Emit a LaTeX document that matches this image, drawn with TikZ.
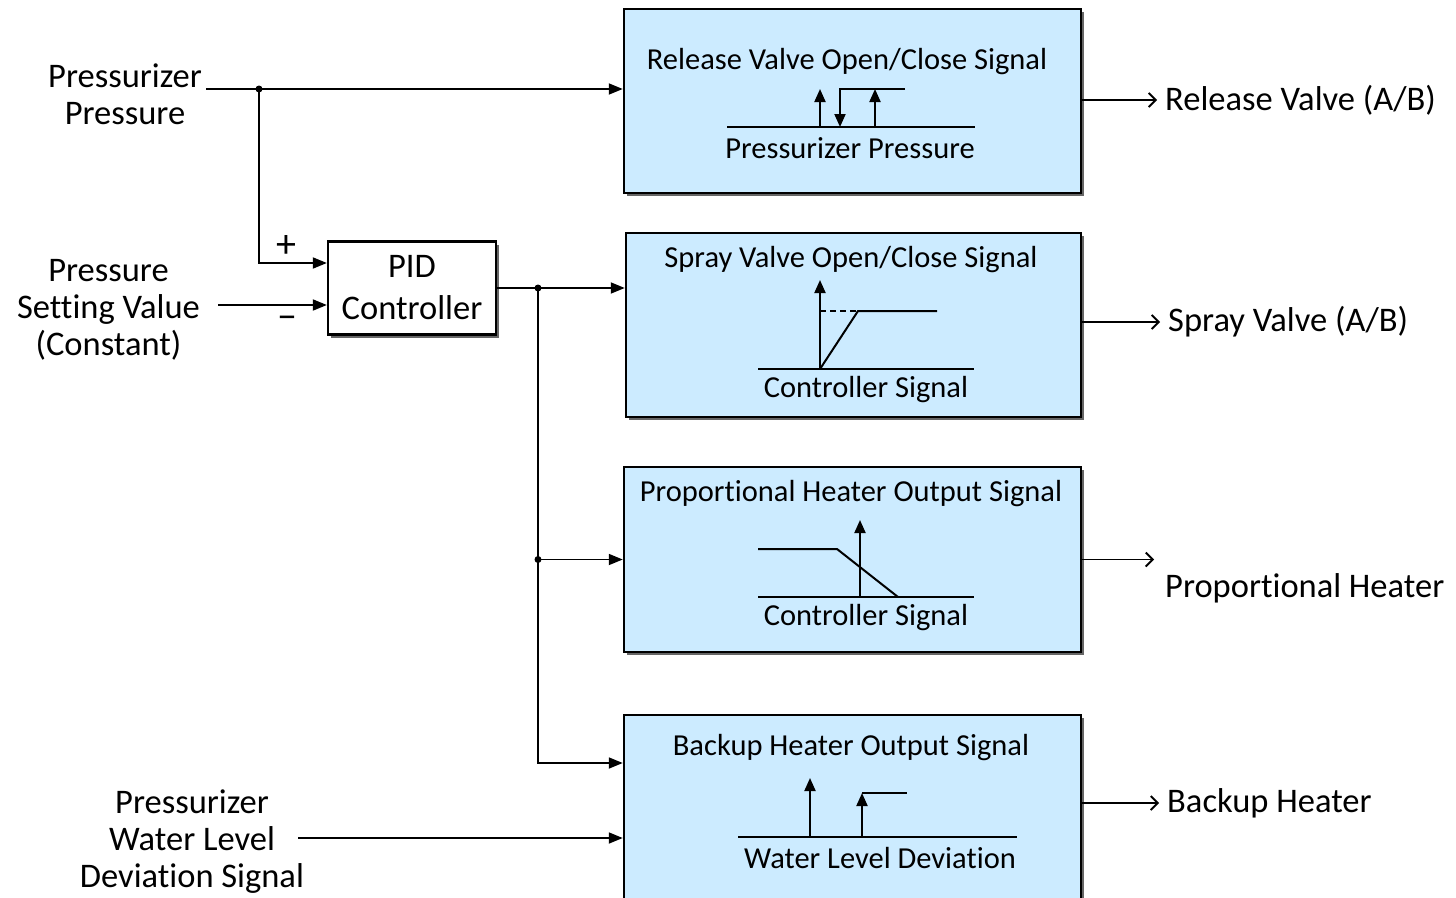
\documentclass[tikz,border=0pt]{standalone}
\usepackage{fontspec}
\setmainfont{Carlito}[Ligatures=NoCommon]
\usetikzlibrary{arrows.meta,shadows}
\definecolor{blockblue}{RGB}{204,235,255}
\newcommand{\bigtxt}{\fontsize{34.5}{37}\selectfont}
\newcommand{\boxtxt}{\fontsize{30.5}{33}\selectfont}
\begin{document}
\begin{tikzpicture}[
  x=1pt, y=-1pt,
  block/.style={draw, line width=2.5pt, fill=blockblue, minimum width=457pt, minimum height=184pt, inner sep=0pt,
    drop shadow={shadow xshift=3pt, shadow yshift=-3pt, fill=black, opacity=0.6}},
  pidbox/.style={draw, line width=2.3pt, fill=white, minimum width=168pt, minimum height=93pt, align=center, inner sep=0pt, font=\bigtxt,
    drop shadow={shadow xshift=3pt, shadow yshift=-3pt, fill=black, opacity=0.6}},
  sig/.style={align=center, font=\bigtxt, inner sep=4pt},
  title/.style={font=\boxtxt, inner sep=0pt},
  sign/.style={font=\fontsize{40}{42}\selectfont, inner sep=0pt},
  wire/.style={line width=1.8pt},
  feed/.style={wire, -{Triangle[length=14pt,width=11pt]}},
  outarr/.style={wire, shorten >=4pt, -{Straight Barb[length=7pt,width=14pt,line width=1.8pt]}},
  axis/.style={line width=2pt},
  tick/.style={line width=2pt, -{Triangle[length=13pt,width=11pt]}},
  dot/.style={circle, fill, inner sep=0pt, minimum size=7pt}
]
\useasboundingbox (0,0) rectangle (1456,897);

% blocks
\node[block] (rel) at (852.5,101) {};
\node[block, minimum width=455pt] (spray) at (853.5,325) {};
\node[block, minimum height=185pt] (prop) at (852.5,559.5) {};
\node[block, minimum height=190pt] (backup) at (852.5,810) {};
\node[pidbox] (pid) at (412,288) {PID\\[5pt]Controller};

% inputs
\node[sig] (ppress) at (125,94) {Pressurizer\\Pressure};
\node[sig] (setv) at (108.5,310) {Pressure\\Setting Value\\(Constant)};
\node[sig] (wlev) at (192,842) {Pressurizer\\Water Level\\Deviation Signal};

% outputs
\node[sig, anchor=west] (relout) at (1161,100) {Release Valve (A/B)};
\node[sig, anchor=west] (sprayout) at (1164,322) {Spray Valve (A/B)};
\node[sig, anchor=west] (propout) at (1161,588) {Proportional Heater};
\node[sig, anchor=west] (bkout) at (1163,803) {Backup Heater};

% release valve block
\node[title] (reltitle) at (847,62) {Release Valve Open/Close Signal};
\node[title] (relaxis) at (850,148) {Pressurizer Pressure};
\draw[axis] (727,127) -- (975,127);
\draw[tick] (820,127) -- (820,89);
\draw[tick] (905,89) -- (840,89) -- (840,127);
\draw[tick] (875,127) -- (875,89);

% spray valve block
\node[title] (spraytitle) at (851,260) {Spray Valve Open/Close Signal};
\node[title] (sprayaxis) at (866,390) {Controller Signal};
\draw[axis] (758,369) -- (974,369);
\draw[tick] (820,369) -- (820,280);
\draw[axis, dash pattern=on 6pt off 4pt] (820,311) -- (858,311);
\draw[axis] (820,369) -- (858,311) -- (937,311);

% proportional heater block
\node[title] (proptitle) at (851,494) {Proportional Heater Output Signal};
\node[title] (propaxis) at (866,618) {Controller Signal};
\draw[axis] (758,597) -- (974,597);
\draw[tick] (860,597) -- (860,520);
\draw[axis] (758,549) -- (837,549) -- (898,597);

% backup heater block
\node[title] (bktitle) at (851,748) {Backup Heater Output Signal};
\node[title] (bkaxis) at (880,858) {Water Level Deviation};
\draw[axis] (738,837) -- (1017,837);
\draw[tick] (810,837) -- (810,778);
\draw[tick] (862,837) -- (862,793);
\draw[axis] (862,793) -- (907,793);

% junctions
\coordinate (j1) at (259,89);
\coordinate (j2) at (538,288);
\coordinate (j3) at (538,559.5);
\coordinate (bkin1) at ([yshift=47pt]backup.west);
\coordinate (bkin2) at ([yshift=-28pt]backup.west);
\coordinate (pidplus) at ([yshift=25pt]pid.west);
\coordinate (pidminus) at ([yshift=-17pt]pid.west);
\coordinate (propend) at (1158,559.5);

% wires
\draw[feed] (ppress.east |- j1) -- (rel.west |- j1);
\draw[feed] (j1) |- (pidplus);
\draw[feed, shorten <=14pt] (setv.east |- pidminus) -- (pidminus);
\draw[feed, shorten <=-10pt] (wlev.east |- bkin2) -- (bkin2);
\draw[feed] (pid.east) -- (spray.west |- pid.east);
\draw[feed] (j2) |- (bkin1);
\draw[feed] (j3) -- (prop.west);
\node[dot] at (j1) {};
\node[dot] at (j2) {};
\node[dot] at (j3) {};
\node[sign] (plus) at (286,246) {+};
\node[sign] (minus) at (287,322) {–};

\draw[outarr] (rel.east |- relout) -- (relout.west);
\draw[outarr] (spray.east |- sprayout) -- (sprayout.west);
\draw[outarr] (prop.east) -- (propend);
\draw[outarr] (backup.east |- bkout) -- (bkout.west);
\end{tikzpicture}
\end{document}
